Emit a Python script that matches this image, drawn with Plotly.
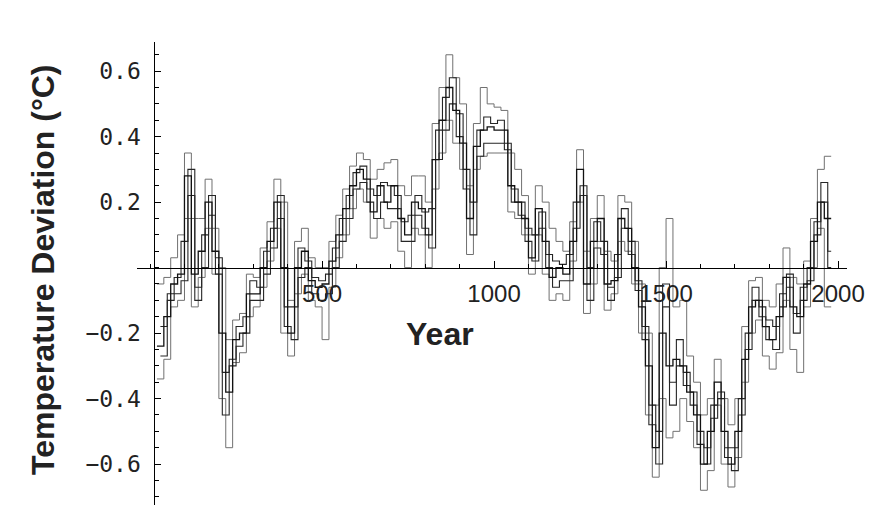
import plotly.graph_objects as go

# bin start years (20-year steps), values held until the next bin (step plot)
years = [20, 40, 60, 80, 100, 120, 140, 160, 180, 200, 220, 240, 260, 280, 300, 320, 340, 360, 380,
         400, 420, 440, 460, 480, 500, 520, 540, 560, 580, 600, 620, 640, 660, 680, 700, 720, 740, 760,
         780, 800, 820, 840, 860, 880, 900, 920, 940, 960, 980, 1000, 1020, 1040, 1060, 1080, 1100,
         1120, 1140, 1160, 1180, 1200, 1220, 1240, 1260, 1280, 1300, 1320, 1340, 1360, 1380, 1400,
         1420, 1440, 1460, 1480, 1500, 1520, 1540, 1560, 1580, 1600, 1620, 1640, 1660, 1680, 1700,
         1720, 1740, 1760, 1780, 1800, 1820, 1840, 1860, 1880, 1900, 1920, 1940, 1960, 1980]

mid = [-0.24, -0.15, -0.05, -0.02, 0.28, -0.02, 0.05, 0.20, 0.05, -0.20, -0.38, -0.22, -0.20, -0.08,
       -0.08, 0.00, 0.08, 0.20, 0.00, -0.20, 0.00, 0.05, -0.04, -0.06, -0.05, 0.02, 0.10, 0.18, 0.25,
       0.30, 0.27, 0.17, 0.25, 0.20, 0.25, 0.15, 0.10, 0.20, 0.18, 0.10, 0.33, 0.45, 0.55, 0.48, 0.38,
       0.15, 0.37, 0.42, 0.43, 0.42, 0.42, 0.25, 0.20, 0.15, 0.03, 0.18, 0.08, -0.03, 0.00, -0.02,
       0.08, 0.30, -0.05, 0.08, 0.15, -0.05, -0.04, 0.15, 0.12, 0.00, -0.12, -0.30, -0.55, -0.20,
       -0.30, -0.28, -0.30, -0.38, -0.45, -0.60, -0.50, -0.35, -0.50, -0.60, -0.50, -0.28, -0.12,
       -0.10, -0.18, -0.22, -0.15, -0.03, -0.12, -0.15, -0.05, 0.08, 0.20, 0.15, 0.15]

upper = [-0.05, -0.03, 0.03, 0.10, 0.35, 0.15, 0.15, 0.27, 0.12, 0.00, -0.22, -0.16, -0.14, -0.02,
         -0.03, 0.06, 0.14, 0.27, 0.20, -0.10, 0.08, 0.12, 0.03, 0.00, 0.00, 0.08, 0.16, 0.24, 0.31,
         0.35, 0.33, 0.27, 0.30, 0.32, 0.33, 0.25, 0.22, 0.28, 0.28, 0.20, 0.44, 0.55, 0.65, 0.58,
         0.50, 0.25, 0.44, 0.55, 0.50, 0.49, 0.48, 0.35, 0.30, 0.22, 0.10, 0.25, 0.20, 0.12, 0.08,
         0.05, 0.14, 0.36, 0.05, 0.15, 0.22, 0.05, 0.02, 0.22, 0.20, 0.08, -0.05, -0.20, -0.42, 0.00,
         0.15, -0.12, -0.10, -0.27, -0.35, -0.45, -0.40, -0.28, -0.40, -0.48, -0.40, -0.18, -0.04,
         -0.03, -0.10, -0.12, -0.05, 0.06, -0.03, -0.05, 0.02, 0.15, 0.30, 0.34, 0.34]

lower = [-0.34, -0.28, -0.12, -0.10, 0.15, -0.12, -0.03, 0.12, -0.02, -0.40, -0.55, -0.29, -0.26,
         -0.15, -0.12, -0.06, 0.02, 0.12, -0.20, -0.27, -0.08, -0.02, -0.10, -0.12, -0.22, -0.06, 0.03,
         0.10, 0.18, 0.24, 0.20, 0.09, 0.15, 0.12, 0.14, 0.05, 0.00, 0.12, 0.10, 0.00, 0.24, 0.35, 0.45,
         0.38, 0.30, 0.04, 0.30, 0.34, 0.35, 0.35, 0.35, 0.17, 0.15, 0.10, -0.02, 0.10, -0.02, -0.10,
         -0.08, -0.10, 0.02, 0.20, -0.14, -0.05, 0.08, -0.13, -0.08, 0.08, 0.05, -0.05, -0.20, -0.45,
         -0.64, -0.40, -0.52, -0.50, -0.40, -0.47, -0.55, -0.68, -0.62, -0.42, -0.60, -0.67, -0.58,
         -0.35, -0.20, -0.16, -0.27, -0.31, -0.26, -0.10, -0.25, -0.32, -0.12, 0.00, 0.12, -0.12, -0.12]

# offset series (bins starting 10 years later)
years_off = [30, 50, 70, 90, 110, 130, 150, 170, 190, 210, 230, 250, 270, 290, 310, 330, 350, 370,
             390, 410, 430, 450, 470, 490, 510, 530, 550, 570, 590, 610, 630, 650, 670, 690, 710, 730,
             750, 770, 790, 810, 830, 850, 870, 890, 910, 930, 950, 970, 990, 1010, 1030, 1050, 1070,
             1090, 1110, 1130, 1150, 1170, 1190, 1210, 1230, 1250, 1270, 1290, 1310, 1330, 1350, 1370,
             1390, 1410, 1430, 1450, 1470, 1490, 1510, 1530, 1550, 1570, 1590, 1610, 1630, 1650, 1670,
             1690, 1710, 1730, 1750, 1770, 1790, 1810, 1830, 1850, 1870, 1890, 1910, 1930, 1950, 1970,
             1980]

inner_hi = [-0.18, -0.08, -0.03, 0.08, 0.30, -0.06, 0.10, 0.22, 0.03, -0.32, -0.28, -0.18, -0.15,
            -0.04, -0.06, 0.05, 0.12, 0.22, -0.12, -0.12, 0.06, 0.02, -0.03, -0.04, -0.02, 0.06, 0.15,
            0.22, 0.29, 0.31, 0.24, 0.22, 0.26, 0.25, 0.22, 0.14, 0.16, 0.22, 0.17, 0.18, 0.42, 0.52,
            0.58, 0.47, 0.30, 0.20, 0.42, 0.46, 0.44, 0.45, 0.38, 0.24, 0.20, 0.12, 0.10, 0.17, 0.04,
            0.02, 0.01, 0.04, 0.20, 0.25, 0.00, 0.14, 0.08, -0.06, 0.04, 0.18, 0.08, -0.04, -0.18,
            -0.42, -0.50, -0.05, -0.35, -0.22, -0.32, -0.38, -0.50, -0.55, -0.42, -0.38, -0.55, -0.55,
            -0.40, -0.20, -0.06, -0.12, -0.16, -0.18, -0.08, -0.02, -0.14, -0.06, 0.00, 0.14, 0.26,
            0.05, 0.05]

inner_lo = [-0.27, -0.10, -0.08, -0.04, 0.22, -0.10, 0.00, 0.16, -0.02, -0.45, -0.30, -0.24, -0.20,
            -0.10, -0.10, -0.02, 0.06, 0.15, -0.18, -0.22, -0.03, 0.00, -0.08, -0.10, -0.08, 0.00, 0.08,
            0.15, 0.24, 0.26, 0.20, 0.15, 0.20, 0.18, 0.18, 0.08, 0.08, 0.16, 0.12, 0.06, 0.33, 0.42,
            0.50, 0.40, 0.24, 0.10, 0.34, 0.38, 0.38, 0.38, 0.36, 0.20, 0.16, 0.08, 0.02, 0.12, 0.00,
            -0.06, -0.04, -0.04, 0.12, 0.22, -0.10, 0.06, 0.04, -0.10, -0.03, 0.12, 0.04, -0.07, -0.22,
            -0.48, -0.60, -0.12, -0.42, -0.30, -0.36, -0.42, -0.54, -0.60, -0.46, -0.40, -0.58, -0.62,
            -0.45, -0.25, -0.10, -0.15, -0.22, -0.25, -0.12, -0.06, -0.20, -0.10, -0.04, 0.10, 0.20,
            0.00, 0.00]

x_ticks = [500, 1000, 1500, 2000]
y_ticks = [-0.6, -0.4, -0.2, 0.2, 0.4, 0.6]
y_tick_text = ["\u22120.6", "\u22120.4", "\u22120.2", "0.2", "0.4", "0.6"]

x_range = [-38, 2026]
y_range = [-0.725, 0.689]
y_axis_year = 10

fig = go.Figure()
series = [
    (years, upper, "#707070", 1.0),
    (years, lower, "#707070", 1.0),
    (years_off, inner_hi, "#262626", 1.1),
    (years_off, inner_lo, "#262626", 1.1),
    (years, mid, "#111111", 1.3),
]
for xs, vals, col, w in series:
    fig.add_trace(go.Scatter(x=xs, y=vals, mode="lines", line=dict(color=col, width=w, shape="hv"),
                             showlegend=False, hoverinfo="skip"))

xpos = (0 - y_range[0]) / (y_range[1] - y_range[0])
ypos = (y_axis_year - x_range[0]) / (x_range[1] - x_range[0])

# page has an 8px body margin; size the figure so the plot sits where the reference has it
BODY = 8
W, H = 878 - BODY, 520 - BODY
L, R, T, B = 137 - BODY, 31, 42 - BODY, 15

fig.update_layout(
    width=W, height=H,
    margin=dict(l=L, r=R, t=T, b=B, autoexpand=False),
    paper_bgcolor="white", plot_bgcolor="white",
    xaxis=dict(range=x_range, anchor="free", position=xpos, showline=True, linecolor="black", linewidth=1.2,
               showgrid=False, zeroline=False, tickmode="array", tickvals=x_ticks, automargin=False,
               ticktext=[str(v) for v in x_ticks], ticks="inside", ticklen=7, tickcolor="black",
               tickfont=dict(family="Liberation Sans", size=24, color="#222"), ticklabelstandoff=4,
               minor=dict(dtick=100, tick0=0, ticks="inside", ticklen=4, tickcolor="black", showgrid=False)),
    yaxis=dict(range=y_range, anchor="free", position=ypos, showline=True, linecolor="black", linewidth=1.2,
               showgrid=False, zeroline=False, tickmode="array", tickvals=y_ticks, ticktext=y_tick_text,
               ticks="inside", ticklen=6, tickcolor="black", automargin=False,
               tickfont=dict(family="DejaVu Sans Mono", size=23, color="#222"), ticklabelstandoff=8,
               minor=dict(dtick=0.05, tick0=0, ticks="inside", ticklen=4, tickcolor="black", showgrid=False)),
    annotations=[
        dict(text="<b>Year</b>", x=440, y=334, xref="paper", yref="paper", showarrow=False,
             xanchor="center", yanchor="middle",
             font=dict(family="Liberation Sans", size=32, color="#222")),
        dict(text="<b>Temperature Deviation (°C)</b>", x=43, y=270, xref="paper", yref="paper",
             showarrow=False, textangle=-90, xanchor="center", yanchor="middle",
             font=dict(family="Liberation Sans", size=32, color="#222")),
    ],
)

# convert page-pixel-positioned annotations to paper coordinates
pw = W - L - R
ph = H - T - B
for a in fig.layout.annotations:
    a.x = (a.x - BODY - L) / pw
    a.y = 1 - (a.y - BODY - T) / ph

fig.write_html("out.html")
